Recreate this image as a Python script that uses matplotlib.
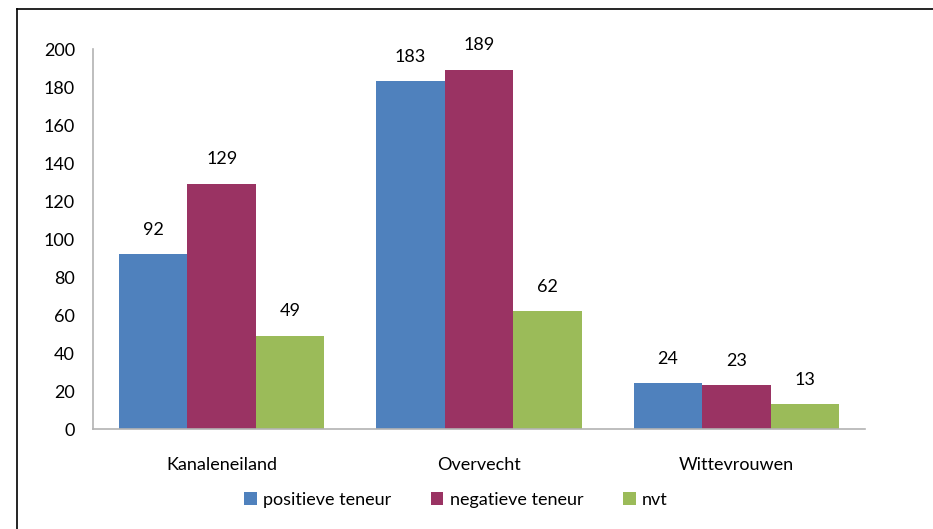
import numpy as np
from matplotlib import pyplot as plt
from matplotlib.lines import Line2D

plt.rcParams['font.family'] = ['Lato', 'DejaVu Sans']

wijken = ["Kanaleneiland", "Overvecht", "Wittevrouwen"]
positief = [92, 183, 24]
negatief = [129, 189, 23]
nvt = [49, 62, 13]
reeksen = ["positieve teneur", "negatieve teneur", "nvt"]
kleuren = ['#4F81BD', '#9A3363', '#9BBB59']
y_ticks = list(range(0, 201, 20))

fig = plt.figure(figsize=(9.33, 5.29), dpi=100)
ax = fig.add_axes([0.0997, 0.189, 0.8274, 0.718])

x = np.arange(len(wijken))
breedte = 0.266
for i, (waarden, naam, kleur) in enumerate(zip([positief, negatief, nvt], reeksen, kleuren)):
    staven = ax.bar(x + (i - 1) * breedte, waarden, width=breedte, color=kleur, label=naam)
    for s, w in zip(staven, waarden):
        ax.annotate(str(w), (s.get_x() + s.get_width() / 2, s.get_height()),
                    xytext=(0, 12), textcoords='offset points', ha='center', va='bottom', fontsize=13)

ax.set_xlim(-0.5, 2.5)
ax.set_ylim(0, 200)
ax.set_yticks(y_ticks)
ax.set_xticks(x)
ax.set_xticklabels(wijken)
ax.tick_params(axis='both', length=0, labelsize=13)
ax.tick_params(axis='x', pad=20)
ax.tick_params(axis='y', pad=13)
for kant in ['top', 'right']:
    ax.spines[kant].set_visible(False)
for kant in ['left', 'bottom']:
    ax.spines[kant].set_color('#B3B3B3')
    ax.spines[kant].set_linewidth(1.2)

ax.legend(loc='center', bbox_to_anchor=(0.47, -0.186), ncol=3, frameon=False,
          fontsize=13, handlelength=0.7, handleheight=0.75, columnspacing=2.2, handletextpad=0.35)

# rand van de grafiek
fig.add_artist(Line2D([17 / 933, 17 / 933], [0, 1 - 9 / 529], color='black', lw=1.2))
fig.add_artist(Line2D([17 / 933, 1], [1 - 9 / 529, 1 - 9 / 529], color='black', lw=1.2))

plt.savefig('out.png', dpi=100)
